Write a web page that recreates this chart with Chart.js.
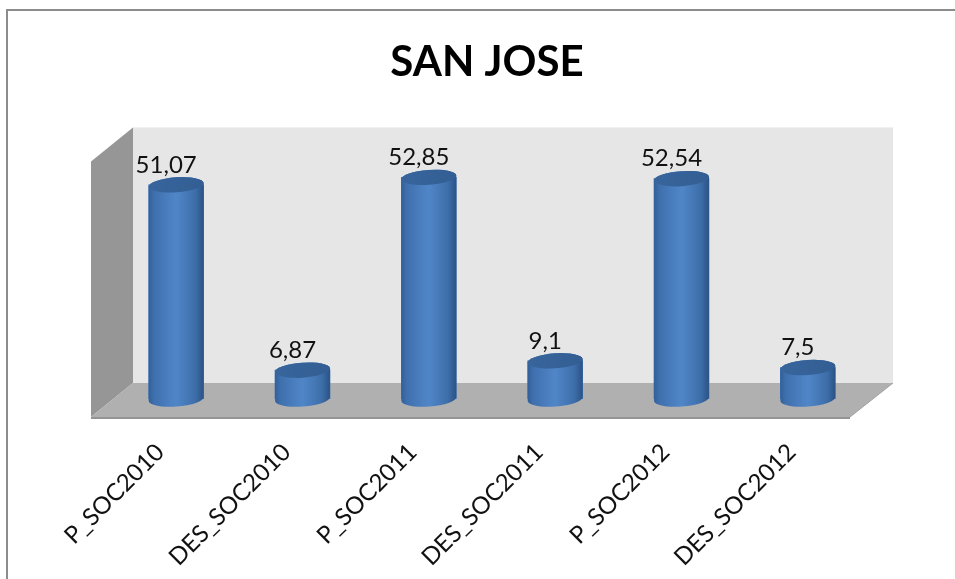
<!DOCTYPE html>
<html>
<head>
<meta charset="utf-8">
<style>html,body{margin:0;padding:0;background:#fff;overflow:hidden}canvas{display:block}</style>
<script src="https://cdn.jsdelivr.net/npm/chart.js@4/dist/chart.umd.js"></script>
</head>
<body>
<canvas id="c" width="955" height="579" style="width:955px;height:579px"></canvas>
<script>
const chartTitle = "SAN JOSE";
const categories = ["P_SOC2010","DES_SOC2010","P_SOC2011","DES_SOC2011","P_SOC2012","DES_SOC2012"];
const values = [51.07, 6.87, 52.85, 9.1, 52.54, 7.5];
const valueLabels = ["51,07","6,87","52,85","9,1","52,54","7,5"];

const FONT = "Lato, Carlito, Calibri, sans-serif";

const frame = {
  id: "frame",
  beforeDraw(chart) {
    const c = chart.ctx;
    c.save();
    c.fillStyle = "#fff";
    c.fillRect(0, 0, chart.width, chart.height);
    c.fillStyle = "#8c8c8c";
    c.fillRect(6, 9, chart.width - 6, 2);
    c.fillRect(6, 9, 2, chart.height - 9);
    c.restore();
  }
};

const walls = {
  id: "walls",
  beforeDatasetsDraw(chart) {
    const c = chart.ctx, a = chart.chartArea;
    const fl = a.left - 22, fb = a.bottom + 18;      // front-left floor corner
    const bl = fl + 42, bb = fb - 34;               // back-left floor corner
    const br = a.right + 22, fr = br - 43;
    const wallTop = a.top - 20;
    c.save();
    c.fillStyle = "#e6e6e6";
    c.fillRect(bl, wallTop, br - bl, bb - wallTop);
    c.fillStyle = "#969696";
    c.beginPath();
    c.moveTo(fl, wallTop + 34); c.lineTo(bl, wallTop); c.lineTo(bl, bb); c.lineTo(fl, fb);
    c.closePath(); c.fill();
    c.fillStyle = "#b0b0b0";
    c.beginPath();
    c.moveTo(fl, fb); c.lineTo(bl, bb); c.lineTo(br, bb); c.lineTo(fr, fb);
    c.closePath(); c.fill();
    c.fillStyle = "#949494";
    c.fillRect(fl, fb, fr - fl, 2);
    c.strokeStyle = "#a3a3a3"; c.lineWidth = 1;
    c.beginPath(); c.moveTo(fr, fb); c.lineTo(br, bb); c.stroke();
    c.restore();
  }
};

const cylinders = {
  id: "cylinders",
  afterDatasetsDraw(chart) {
    const c = chart.ctx, meta = chart.getDatasetMeta(0);
    meta.data.forEach((bar, i) => {
      const rx = bar.width / 2, ry = 7.5, rot = -0.07;
      const x = bar.x, top = bar.y, base = bar.base;
      c.save();
      const g = c.createLinearGradient(x - rx, 0, x + rx, 0);
      g.addColorStop(0, "#325f98");
      g.addColorStop(0.1, "#3f70ae");
      g.addColorStop(0.5, "#5086c8");
      g.addColorStop(0.85, "#3d6ea9");
      g.addColorStop(1, "#2b5285");
      c.fillStyle = g;
      c.beginPath();
      c.ellipse(x, base, rx, ry, rot, 0, Math.PI, false);
      c.ellipse(x, top, rx, ry, rot, Math.PI, Math.PI * 2, false);
      c.closePath();
      c.fill();
      const t = c.createLinearGradient(x - rx, 0, x + rx, 0);
      t.addColorStop(0, "#38659c");
      t.addColorStop(1, "#325e93");
      c.fillStyle = t;
      c.beginPath();
      c.ellipse(x, top, rx, ry, rot, 0, Math.PI * 2);
      c.fill();
      c.fillStyle = "#111";
      c.font = "24px " + FONT;
      c.textAlign = "center";
      c.textBaseline = "middle";
      c.fillText(valueLabels[i], x - 10, top - 20);
      c.restore();
    });
  }
};

new Chart(document.getElementById("c"), {
  type: "bar",
  data: {
    labels: categories,
    datasets: [{ data: values, backgroundColor: "#3f74b5", borderWidth: 0, barThickness: 55 }]
  },
  plugins: [frame, walls, cylinders],
  options: {
    responsive: false,
    animation: false,
    layout: { padding: { left: 103, right: 84, top: 0, bottom: 0 } },
    plugins: {
      legend: { display: false },
      tooltip: { enabled: false },
      title: {
        display: true,
        text: chartTitle,
        color: "#000",
        font: { family: FONT, size: 42, weight: "bold", lineHeight: 1.2 },
        padding: { top: 37, bottom: 60 }
      }
    },
    scales: {
      x: {
        grid: { display: false },
        border: { display: false },
        afterFit(s) { s.height = 180; },
        ticks: {
          color: "#111",
          font: { family: FONT, size: 24 },
          autoSkip: false, minRotation: 45, maxRotation: 45,
          padding: 31, labelOffset: -16
        }
      },
      y: {
        min: 0, max: 60,
        afterFit(s) { s.width = 10; },
        grid: { display: false },
        border: { display: false },
        ticks: { display: false }
      }
    }
  }
});
</script>
</body>
</html>
